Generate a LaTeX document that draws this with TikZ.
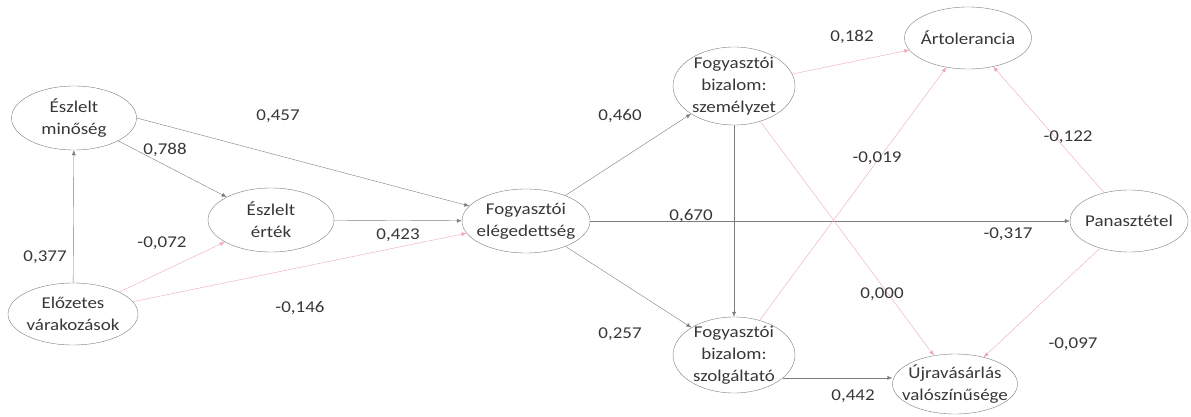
\documentclass[tikz,border=0pt]{standalone}
\usepackage{fontspec}
\setmainfont{Carlito}[FakeStretch=1.15]
\usetikzlibrary{shapes.geometric, arrows.meta}
\definecolor{linegray}{RGB}{125,125,125}
\definecolor{linepink}{RGB}{238,168,180}
\definecolor{textgray}{RGB}{55,55,55}

\begin{document}
\begin{tikzpicture}[x=1pt, y=-1pt,
  font=\fontsize{16.5}{22}\selectfont, text=textgray,
  construct/.style={draw=linegray, ellipse, inner sep=0pt},
  pos path/.style={draw=linegray, -{Latex[length=5pt, width=4pt]}},
  neg path/.style={draw=linepink, -{Latex[length=5pt, width=4pt]}},
  coef/.style={inner sep=1pt}]
  \useasboundingbox (0,0) rectangle (1191,417);
  % Constructs
  \node[construct, minimum width=125, minimum height=64,
        label={[align=center]center:Észlelt\\minőség}] (min) at (74,118) {};
  \node[construct, minimum width=126, minimum height=64,
        label={[align=center]center:Észlelt\\érték}] (ert) at (271,220) {};
  \node[construct, minimum width=130, minimum height=62,
        label={[align=center]center:Előzetes\\várakozások}] (elo) at (73,314) {};
  \node[construct, minimum width=128, minimum height=64,
        label={[align=center]center:Fogyasztói\\elégedettség}] (eleg) at (526,221) {};
  \node[construct, minimum width=122, minimum height=78,
        label={[align=center]center:Fogyasztói\\bizalom:\\személyzet}] (szem) at (734,86) {};
  \node[construct, minimum width=122, minimum height=76,
        label={[align=center]center:Fogyasztói\\bizalom:\\szolgáltató}] (szolg) at (734,355) {};
  \node[construct, minimum width=127, minimum height=62,
        label={center:Ártolerancia}] (arto) at (968,38) {};
  \node[construct, minimum width=118, minimum height=62,
        label={center:Panasztétel}] (pan) at (1129,221) {};
  \node[construct, minimum width=125, minimum height=60,
        label={[align=center]center:Újravásárlás\\valószínűsége}] (ujra) at (955,384) {};
  % Paths
  \draw[pos path] (elo) -- (min);
  \draw[pos path] (min) -- (ert);
  \draw[pos path] (min.east) -- (eleg);
  \draw[neg path] (elo) -- (ert);
  \draw[neg path] (elo) -- (eleg);
  \draw[pos path] (ert) -- (eleg);
  \draw[pos path] (eleg) -- (szem);
  \draw[pos path] (eleg) -- (szolg);
  \draw[pos path] (eleg) -- (pan);
  \draw[pos path] (szem) -- (szolg);
  \draw[neg path] (szem) -- (arto);
  \draw[neg path] (szem) -- (ujra);
  \draw[neg path] (szolg) -- (arto);
  \draw[pos path] (szolg.-25) -- (szolg.-25 -| ujra.west);
  \draw[neg path] (pan) -- (arto);
  \draw[neg path] (pan) -- (ujra);
  % Coefficients
  \node[coef] (c377) at (45,257) {0,377};
  \node[coef] (c788) at (165,150) {0,788};
  \node[coef] (c457) at (278,116) {0,457};
  \node[coef] (c072) at (162,243) {-0,072};
  \node[coef] (c146) at (300,308) {-0,146};
  \node[coef] (c423) at (398,235) {0,423};
  \node[coef] (c460) at (620,116) {0,460};
  \node[coef] (c257) at (620,334) {0,257};
  \node[coef] (c670) at (691,216) {0,670};
  \node[coef] (c182) at (852,37) {0,182};
  \node[coef] (c019) at (877,158) {-0,019};
  \node[coef] (c000) at (882,294) {0,000};
  \node[coef] (c317) at (1008,234) {-0,317};
  \node[coef] (c122) at (1068,137) {-0,122};
  \node[coef] (c097) at (1073,344) {-0,097};
  \node[coef] (c442) at (853,396) {0,442};
\end{tikzpicture}
\end{document}
